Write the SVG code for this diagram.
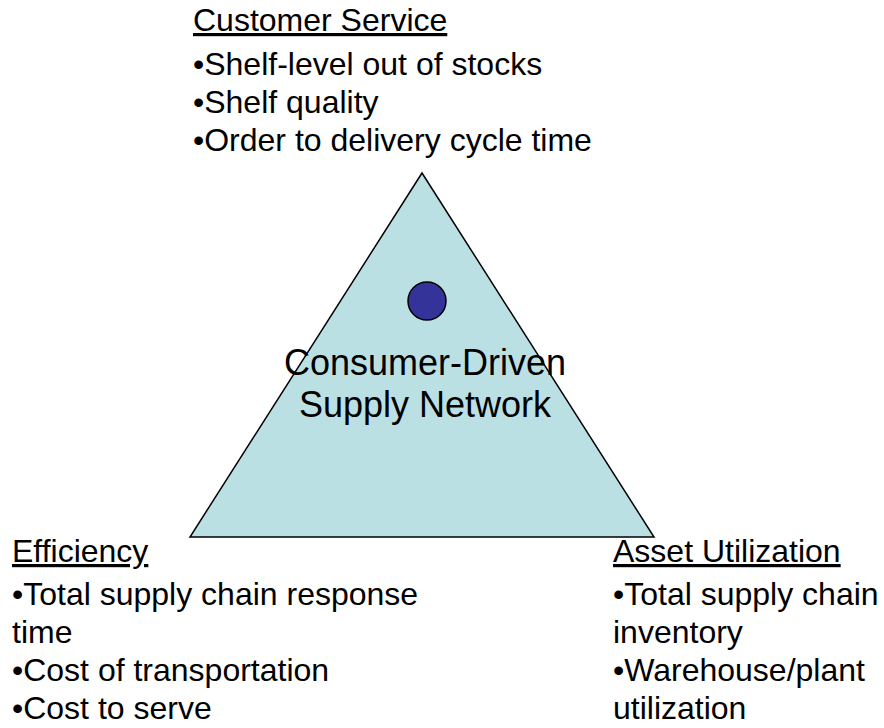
<svg xmlns="http://www.w3.org/2000/svg" width="884" height="728" viewBox="0 0 884 728">
<style>
text{font-family:"Liberation Sans",Arial,sans-serif;fill:#000}
.t{font-size:32px}
.h{font-size:32px;text-decoration:underline}
.c{font-size:36px;text-anchor:middle}
</style>
<rect width="884" height="728" fill="#fff"/>
<g id="network">
<polygon points="422,173 190,537 654,537" fill="#BBE0E3" stroke="#000" stroke-width="1.5"/>
<circle cx="427" cy="301" r="19" fill="#333399" stroke="#000" stroke-width="1.5"/>
<text class="c" x="425" y="375">Consumer-Driven</text>
<text class="c" x="425" y="417">Supply Network</text>
</g>
<g id="customer-service">
<text class="h" x="193" y="31">Customer Service</text>
<text class="t" x="193" y="75">•Shelf-level out of stocks</text>
<text class="t" x="193" y="113">•Shelf quality</text>
<text class="t" x="193" y="151">•Order to delivery cycle time</text>
</g>
<g id="efficiency">
<text class="h" x="12" y="562">Efficiency</text>
<text class="t" x="12" y="605">•Total supply chain response</text>
<text class="t" x="12" y="643">time</text>
<text class="t" x="12" y="681">•Cost of transportation</text>
<text class="t" x="12" y="719">•Cost to serve</text>
</g>
<g id="asset-utilization">
<text class="h" x="613" y="562">Asset Utilization</text>
<text class="t" x="613" y="605">•Total supply chain</text>
<text class="t" x="613" y="643">inventory</text>
<text class="t" x="613" y="681">•Warehouse/plant</text>
<text class="t" x="613" y="719">utilization</text>
</g>
</svg>
